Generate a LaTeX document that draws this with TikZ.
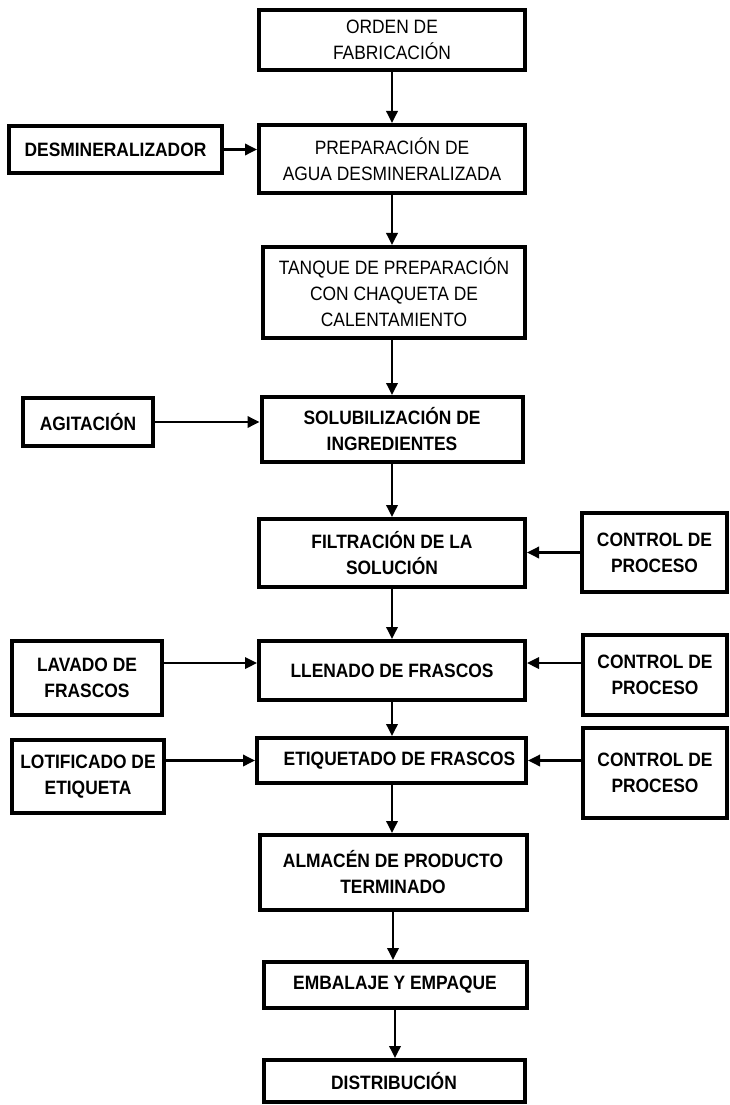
\documentclass[tikz,border=0pt]{standalone}
\usepackage{fontspec}
\setmainfont{Liberation Sans}[FakeStretch=0.9]
\usetikzlibrary{arrows.meta}
\begin{document}
\begin{tikzpicture}[x=0.75pt,y=-0.75pt,
  box/.style={draw,line width=3pt,inner sep=0pt,align=center,
    font=\fontsize{14.5}{19.5}\selectfont\bfseries},
  thin/.style={font=\fontsize{14.5}{19.5}\selectfont},
  bw/.style={minimum width=#1*0.75pt},
  bh/.style={minimum height=#1*0.75pt},
  arr/.style={line width=1.8pt,-{Triangle[length=9pt,width=8.5pt]}}]
\useasboundingbox (0,0) rectangle (729,1105);

% main process column
\node[box,thin,bw=266,bh=60] (orden)    at (392,40)    {ORDEN DE\\FABRICACIÓN};
\node[box,thin,bw=266,bh=68] (prep)     at (392,159)   {PREPARACIÓN DE\\AGUA DESMINERALIZADA};
\node[box,thin,bw=262,bh=91] (tanque)   at (394,292.5) {TANQUE DE PREPARACIÓN\\CON CHAQUETA DE\\CALENTAMIENTO};
\node[box,bw=261,bh=65]      (solub)    at (392,429.5) {SOLUBILIZACIÓN DE\\INGREDIENTES};
\node[box,bw=266,bh=68]      (filtr)    at (392,553)   {FILTRACIÓN DE LA\\SOLUCIÓN};
\node[box,bw=266,bh=59]      (llenado)  at (392,670.5) {LLENADO DE FRASCOS};
\node[box,bw=269,bh=45]      (etiq)     at (391.5,760.5) {\hspace*{12pt}ETIQUETADO DE FRASCOS};
\node[box,bw=267,bh=75]      (almacen)  at (393,872.5) {ALMACÉN DE PRODUCTO\\TERMINADO};
\node[box,bw=263,bh=46]      (embalaje) at (395,985)   {EMBALAJE Y EMPAQUE};
\node[box,bw=261,bh=42]      (distrib)  at (394,1081)  {DISTRIBUCIÓN};

% inputs on the left
\node[box,bw=213,bh=47] (desmin) at (115.5,149.5) {DESMINERALIZADOR};
\node[box,bw=130,bh=48] (agit)   at (88,422)      {AGITACIÓN};
\node[box,bw=150,bh=74] (lavado) at (87,678)      {LAVADO DE\\FRASCOS};
\node[box,bw=152,bh=73] (lotif)  at (88,776.5)    {LOTIFICADO DE\\ETIQUETA};

% process controls on the right
\node[box,bw=145,bh=79] (ctrlA) at (654.5,552.5) {CONTROL DE\\PROCESO};
\node[box,bw=144,bh=80] (ctrlB) at (655,675)     {CONTROL DE\\PROCESO};
\node[box,bw=144,bh=90] (ctrlC) at (655,773)     {CONTROL DE\\PROCESO};

% flow down the column
\draw[arr] (orden.south)    -- (orden.south |- prep.north);
\draw[arr] (prep.south)     -- (prep.south |- tanque.north);
\draw[arr] (tanque.south -| prep.south) -- (prep.south |- solub.north);
\draw[arr] (solub.south)    -- (solub.south |- filtr.north);
\draw[arr] (filtr.south)    -- (filtr.south |- llenado.north);
\draw[arr] (llenado.south)  -- (llenado.south |- etiq.north);
\draw[arr] (llenado.south |- etiq.south) -- (llenado.south |- almacen.north);
\draw[arr] (almacen.south)  -- (almacen.south |- embalaje.north);
\draw[arr] (embalaje.south) -- (embalaje.south |- distrib.north);

% side inputs
\draw[arr] (desmin.east) -- (desmin.east -| prep.west);
\draw[arr] (agit.east)   -- (agit.east -| solub.west);
\draw[arr] ([yshift=5.6pt]llenado.west -| lavado.east) -- ([yshift=5.6pt]llenado.west);
\draw[arr] (etiq.west -| lotif.east) -- (etiq.west);
\draw[arr] (ctrlA.west) -- (ctrlA.west -| filtr.east);
\draw[arr] ([yshift=5.6pt]llenado.east -| ctrlB.west) -- ([yshift=5.6pt]llenado.east);
\draw[arr] (etiq.east -| ctrlC.west) -- (etiq.east);
\end{tikzpicture}
\end{document}
